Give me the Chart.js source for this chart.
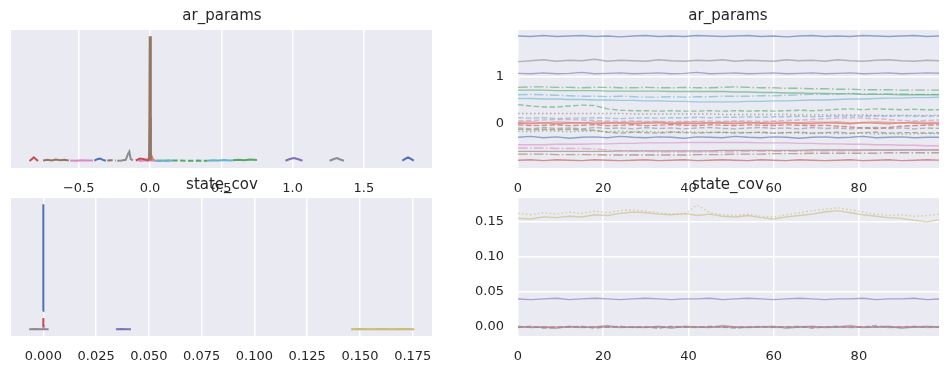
<!DOCTYPE html>
<html>
<head>
<meta charset="utf-8">
<script src="https://cdn.jsdelivr.net/npm/chart.js@4.4.1/dist/chart.umd.min.js"></script>
<style>
  body { margin: 0; background: #fff; }
  #wrap { position: relative; width: 950px; height: 374px; overflow: hidden; }
  canvas { position: absolute; left: 0; top: 0; }
  .ttl { position: absolute; font-family: "DejaVu Sans", sans-serif; font-size: 15px; color: #262626;
         transform: translate(-50%, -50%); white-space: nowrap; z-index: 5; }
</style>
</head>
<body>
<div id="wrap">
  <canvas id="c_tl" width="950" height="374"></canvas>
  <canvas id="c_tr" width="950" height="374"></canvas>
  <canvas id="c_bl" width="950" height="374"></canvas>
  <canvas id="c_br" width="950" height="374"></canvas>
  <div class="ttl" style="left:222px;top:15px">ar_params</div>
  <div class="ttl" style="left:728px;top:15px">ar_params</div>
  <div class="ttl" style="left:222px;top:184px">state_cov</div>
  <div class="ttl" style="left:728px;top:184px">state_cov</div>
</div>
<script>
// tick values
var AR_KDE_TICKS = [-0.5, 0, 0.5, 1, 1.5];
var SC_KDE_TICKS = [0, 0.025, 0.05, 0.075, 0.1, 0.125, 0.15, 0.175];
var DRAW_TICKS = [0, 20, 40, 60, 80];
var AR_TRACE_Y_TICKS = [0, 1];
var SC_TRACE_Y_TICKS = [0, 0.05, 0.1, 0.15];

// draw index for the trace panels (every 3rd draw)
var DRAWS = [0,3,6,9,12, 15,18,21,24,27, 30,33,36,39,42, 45,48,51,54,57, 60,63,66,69,72, 75,78,81,84,87, 90,93,96,99];

// ar_params traces
var arBlueTop   = [1.87,1.86,1.88,1.86,1.87, 1.88,1.86,1.87,1.85,1.87, 1.88,1.86,1.87,1.86,1.88, 1.87,1.86,1.87,1.88,1.86, 1.87,1.85,1.87,1.88,1.86, 1.87,1.86,1.88,1.87,1.86, 1.87,1.88,1.86,1.87];
var arGray      = [1.32,1.34,1.36,1.33,1.35, 1.34,1.37,1.33,1.35,1.34, 1.33,1.36,1.34,1.33,1.35, 1.34,1.36,1.33,1.35,1.34, 1.33,1.36,1.34,1.35,1.33, 1.36,1.34,1.33,1.35,1.36, 1.34,1.33,1.35,1.34];
var arPurple    = [1.07,1.06,1.08,1.06,1.07, 1.09,1.06,1.07,1.08,1.06, 1.07,1.08,1.06,1.07,1.09, 1.06,1.07,1.08,1.06,1.07, 1.08,1.06,1.07,1.08,1.06, 1.07,1.08,1.06,1.07,1.08, 1.06,1.07,1.08,1.07];
var arGreenDD   = [0.77,0.78,0.78,0.77,0.77, 0.76,0.77,0.77,0.76,0.76, 0.77,0.76,0.76,0.77,0.76, 0.76,0.77,0.78,0.77,0.76, 0.76,0.75,0.75,0.74,0.74, 0.73,0.73,0.72,0.72,0.72, 0.71,0.71,0.71,0.71];
var arGreen     = [0.71,0.71,0.71,0.70,0.70, 0.70,0.70,0.69,0.69,0.69, 0.69,0.69,0.68,0.68,0.68, 0.68,0.68,0.67,0.67,0.66, 0.66,0.65,0.65,0.64,0.64, 0.63,0.63,0.62,0.62,0.62, 0.61,0.61,0.61,0.61];
var arCyanDD    = [0.61,0.62,0.61,0.60,0.59, 0.58,0.58,0.57,0.58,0.57, 0.56,0.56,0.57,0.56,0.57, 0.57,0.58,0.58,0.58,0.59, 0.59,0.60,0.61,0.62,0.62, 0.63,0.64,0.63,0.63,0.63, 0.63,0.62,0.62,0.62];
var arCyan      = [0.53,0.53,0.52,0.52,0.51, 0.51,0.50,0.50,0.49,0.49, 0.48,0.48,0.47,0.47,0.46, 0.46,0.46,0.46,0.47,0.47, 0.48,0.48,0.49,0.50,0.50, 0.51,0.52,0.52,0.53,0.54, 0.54,0.55,0.55,0.56];
var arGreenDash = [0.40,0.37,0.35,0.35,0.37, 0.39,0.38,0.31,0.28,0.27, 0.27,0.26,0.27,0.26,0.26, 0.27,0.26,0.27,0.26,0.27, 0.26,0.27,0.28,0.27,0.28, 0.30,0.31,0.29,0.31,0.30, 0.29,0.30,0.29,0.29];
var arBrownDot  = [0.21,0.21,0.21,0.21,0.21, 0.21,0.21,0.21,0.21,0.20, 0.20,0.20,0.20,0.20,0.20, 0.20,0.19,0.19,0.19,0.19, 0.19,0.19,0.18,0.18,0.18, 0.18,0.18,0.18,0.17,0.17, 0.17,0.17,0.17,0.17];
var arCyanDash  = [0.12,0.11,0.12,0.10,0.11, 0.11,0.12,0.11,0.10,0.11, 0.12,0.11,0.12,0.12,0.13, 0.12,0.13,0.13,0.14,0.13, 0.14,0.14,0.15,0.14,0.15, 0.15,0.16,0.15,0.16,0.15, 0.16,0.15,0.15,0.16];
var arPinkDash  = [0.05,0.06,0.07,0.08,0.08, 0.07,0.06,0.05,0.04,0.05, 0.04,0.04,0.03,0.04,0.04, 0.05,0.04,0.05,0.05,0.04, 0.05,0.06,0.07,0.08,0.10, 0.11,0.12,0.11,0.10,0.08, 0.06,0.05,0.06,0.07];
var arOrange    = [0.02,0.03,0.01,0.03,0.02, 0.01,0.03,0.02,0.01,0.03, 0.02,0.03,0.01,0.02,0.03, 0.01,0.02,0.03,0.02,0.01, 0.03,0.02,0.01,0.03,0.02, 0.03,0.01,0.02,0.03,0.02, 0.01,0.03,0.02,0.02];
var arRed       = [0.00,-0.01,0.01,-0.01,0.00, 0.01,-0.01,0.00,0.01,-0.01, 0.00,0.01,-0.01,0.00,-0.01, 0.01,0.00,-0.01,0.01,0.00, -0.01,0.01,0.00,-0.01,0.01, 0.00,-0.01,0.01,0.00,-0.01, 0.01,0.00,-0.01,0.00];
var arRedDash   = [-0.03,-0.05,-0.04,-0.03,-0.05, -0.04,-0.03,-0.05,-0.04,-0.03, -0.05,-0.04,-0.03,-0.04,-0.05, -0.03,-0.04,-0.05,-0.03,-0.04, -0.05,-0.03,-0.04,-0.05,-0.04, -0.06,-0.08,-0.10,-0.11,-0.09, -0.06,-0.05,-0.04,-0.03];
var arGrayDash  = [-0.10,-0.12,-0.09,-0.11,-0.10, -0.12,-0.09,-0.11,-0.10,-0.12, -0.09,-0.11,-0.10,-0.12,-0.10, -0.09,-0.11,-0.12,-0.10,-0.09, -0.11,-0.10,-0.12,-0.09,-0.11, -0.10,-0.12,-0.10,-0.09,-0.11, -0.10,-0.12,-0.10,-0.11];
var arBrownDash = [-0.13,-0.14,-0.13,-0.14,-0.13, -0.14,-0.15,-0.19,-0.21,-0.19, -0.20,-0.21,-0.19,-0.20,-0.21, -0.20,-0.19,-0.21,-0.20,-0.19, -0.21,-0.20,-0.19,-0.21,-0.20, -0.19,-0.21,-0.20,-0.19,-0.21, -0.20,-0.20,-0.21,-0.20];
var arGreenDot  = [-0.17,-0.18,-0.16,-0.17,-0.18, -0.17,-0.16,-0.18,-0.17,-0.18, -0.17,-0.19,-0.18,-0.18,-0.19, -0.19,-0.20,-0.19,-0.20,-0.20, -0.21,-0.20,-0.21,-0.22,-0.21, -0.22,-0.22,-0.21,-0.23,-0.22, -0.23,-0.22,-0.22,-0.22];
var arBlue      = [-0.30,-0.28,-0.31,-0.29,-0.32, -0.30,-0.29,-0.31,-0.28,-0.30, -0.31,-0.29,-0.30,-0.32,-0.29, -0.30,-0.31,-0.28,-0.30,-0.31, -0.29,-0.30,-0.32,-0.30,-0.29, -0.31,-0.30,-0.28,-0.31,-0.30, -0.29,-0.31,-0.30,-0.30];
var arPink      = [-0.46,-0.46,-0.46,-0.45,-0.45, -0.45,-0.44,-0.44,-0.43,-0.43, -0.42,-0.42,-0.42,-0.41,-0.41, -0.41,-0.41,-0.41,-0.41,-0.42, -0.42,-0.42,-0.43,-0.43,-0.44, -0.44,-0.45,-0.45,-0.46,-0.46, -0.47,-0.47,-0.48,-0.48];
var arPinkDD    = [-0.53,-0.53,-0.53,-0.54,-0.54, -0.54,-0.55,-0.57,-0.59,-0.60, -0.60,-0.61,-0.61,-0.61,-0.61, -0.61,-0.61,-0.61,-0.60,-0.60, -0.60,-0.60,-0.60,-0.59,-0.59, -0.59,-0.59,-0.58,-0.58,-0.58, -0.58,-0.57,-0.57,-0.57];
var arBrown     = [-0.60,-0.60,-0.60,-0.60,-0.60, -0.60,-0.60,-0.60,-0.59,-0.59, -0.59,-0.59,-0.59,-0.59,-0.59, -0.59,-0.58,-0.58,-0.58,-0.58, -0.58,-0.58,-0.58,-0.57,-0.57, -0.57,-0.57,-0.57,-0.57,-0.57, -0.57,-0.57,-0.57,-0.57];
var arBrownDD   = [-0.66,-0.66,-0.66,-0.67,-0.67, -0.67,-0.67,-0.68,-0.68,-0.68, -0.68,-0.68,-0.68,-0.68,-0.67, -0.67,-0.67,-0.66,-0.66,-0.66, -0.65,-0.65,-0.65,-0.64,-0.64, -0.64,-0.64,-0.64,-0.64,-0.63, -0.63,-0.63,-0.63,-0.63];
var arRedBottom = [-0.79,-0.78,-0.80,-0.78,-0.79, -0.80,-0.78,-0.79,-0.80,-0.79, -0.78,-0.80,-0.79,-0.78,-0.80, -0.79,-0.78,-0.79,-0.80,-0.78, -0.79,-0.80,-0.78,-0.79,-0.80, -0.79,-0.78,-0.80,-0.79,-0.78, -0.80,-0.79,-0.78,-0.79];

// state_cov traces
var scOlive    = [0.155,0.154,0.157,0.156,0.158, 0.157,0.160,0.159,0.162,0.164, 0.163,0.161,0.160,0.162,0.159, 0.161,0.158,0.157,0.159,0.156, 0.154,0.157,0.159,0.161,0.164, 0.166,0.163,0.160,0.158,0.156, 0.155,0.152,0.150,0.153];
var scOliveDot = [0.162,0.160,0.163,0.161,0.164, 0.162,0.165,0.163,0.166,0.167, 0.165,0.163,0.161,0.160,0.174, 0.163,0.160,0.159,0.161,0.158, 0.157,0.160,0.163,0.166,0.168, 0.170,0.167,0.164,0.161,0.159, 0.160,0.158,0.159,0.161];
var scPurple   = [0.040,0.039,0.040,0.041,0.039, 0.040,0.041,0.040,0.039,0.040, 0.041,0.040,0.039,0.040,0.040, 0.041,0.039,0.040,0.041,0.040, 0.039,0.040,0.041,0.040,0.039, 0.040,0.040,0.041,0.039,0.040, 0.040,0.041,0.039,0.040];
var scGray     = [-0.001,0.001,-0.002,-0.001,0.000, 0.001,-0.002,0.000,0.001,-0.001, 0.000,-0.002,0.001,0.000,-0.001, 0.001,0.000,-0.002,0.000,0.001, -0.001,0.000,0.001,-0.002,0.000, 0.001,-0.001,0.000,0.002,-0.001, 0.000,0.001,-0.001,0.000];
var scGray2    = [0.001,-0.001,0.000,-0.002,0.001, -0.001,0.000,0.002,-0.001,0.000, -0.001,0.001,-0.002,0.001,0.000, -0.001,0.002,0.000,-0.001,0.000, 0.001,-0.002,0.000,0.001,-0.001, 0.000,0.002,-0.001,0.000,0.001, -0.002,0.000,0.001,0.000];
var scRed      = [0,0,0,0,0, 0,0,0,0,0, 0,0,0,0,0, 0,0,0,0,0, 0,0,0,0,0, 0,0,0,0,0, 0,0,0,0];

// ar_params densities, [value, density] (density scaled so the tallest is 1)
var kdeArRed      = [[-0.845,0.005],[-0.83,0.02],[-0.815,0.035],[-0.80,0.02],[-0.785,0.005]];
var kdeArBrown    = [[-0.75,0.01],[-0.72,0.015],[-0.69,0.01],[-0.66,0.018],[-0.63,0.012],[-0.60,0.016],[-0.57,0.01]];
var kdeArPink     = [[-0.56,0.01],[-0.52,0.008],[-0.48,0.012],[-0.44,0.009],[-0.40,0.01]];
var kdeArBlue     = [[-0.39,0.008],[-0.37,0.02],[-0.35,0.025],[-0.33,0.015],[-0.31,0.008]];
var kdeArBrown2   = [[-0.30,0.01],[-0.27,0.012],[-0.24,0.01]];
var kdeArGray     = [[-0.23,0.008],[-0.20,0.01],[-0.17,0.015],[-0.155,0.06],[-0.145,0.08],[-0.135,0.02],[-0.12,0.01]];
var kdeArRed2     = [[-0.10,0.01],[-0.07,0.025],[-0.04,0.02],[-0.01,0.01]];
var kdeArPink2    = [[-0.08,0.006],[-0.04,0.01],[0.0,0.012],[0.04,0.008],[0.08,0.005]];
var kdeArOrange   = [[-0.02,0.01],[-0.01,0.03],[0.0,0.05],[0.01,0.05],[0.02,0.02],[0.03,0.01]];
var kdeArBlue2    = [[-0.004,0.02],[0.0,0.35],[0.004,0.02]];
var kdeArSpike    = [[-0.004,0.01],[0.0,1.0],[0.004,0.01]];
var kdeArCyan     = [[0.04,0.008],[0.08,0.01],[0.12,0.007],[0.16,0.009]];
var kdeArGreen2   = [[0.10,0.008],[0.18,0.01],[0.26,0.007],[0.34,0.009],[0.40,0.008]];
var kdeArCyan2    = [[0.40,0.008],[0.44,0.012],[0.48,0.009],[0.52,0.014],[0.56,0.01],[0.58,0.012]];
var kdeArGreen    = [[0.58,0.012],[0.62,0.016],[0.66,0.012],[0.70,0.018],[0.75,0.014]];
var kdeArPurple   = [[0.95,0.008],[0.98,0.022],[1.01,0.03],[1.04,0.02],[1.07,0.008]];
var kdeArGray2    = [[1.26,0.008],[1.29,0.022],[1.31,0.03],[1.33,0.02],[1.36,0.008]];
var kdeArBlueTop  = [[1.77,0.008],[1.79,0.022],[1.81,0.035],[1.83,0.022],[1.85,0.008]];

// state_cov densities
var kdeScGray   = [[-0.0067,0.003],[-0.004,0.005],[-0.001,0.004],[0.0025,0.003]];
var kdeScPurple = [[0.0344,0.003],[0.037,0.005],[0.040,0.004],[0.0415,0.003]];
var kdeScOlive  = [[0.1458,0.003],[0.150,0.005],[0.155,0.004],[0.160,0.006],[0.165,0.004],[0.170,0.005],[0.1757,0.003]];
var kdeScBlue   = [[-0.00005,0.147],[0.0,1.0],[0.00005,0.147]];
var kdeScRed    = [[-0.00005,0.03],[0.0,0.093],[0.00005,0.03]];
var kdeScPink   = [[-0.0003,0.005],[0.0,0.035],[0.0003,0.005]];

var DEEP = {blue:'76,114,176', orange:'221,132,82', green:'85,168,104', red:'196,78,82', purple:'129,114,179',
            brown:'147,120,96', pink:'218,139,195', gray:'140,140,140', olive:'204,185,116', cyan:'100,181,205'};
var DASH = {solid: [], dashed: [5.5, 2.4], dotted: [1.5, 2.5], dashdot: [9.6, 2.4, 1.5, 2.4]};
var INK = '#262626';
var FONT = {family: 'DejaVu Sans', size: 13};

var bgPlugin = {
  id: 'bg',
  beforeDraw: function(chart) {
    var a = chart.chartArea, ctx = chart.ctx;
    ctx.save();
    ctx.fillStyle = '#EAEAF2';
    ctx.fillRect(a.left, a.top, a.right - a.left, a.bottom - a.top);
    ctx.restore();
  }
};

function traceSet(vals, color, style) {
  return {
    data: vals.map(function(v, i) { return {x: DRAWS[i], y: v}; }),
    borderColor: 'rgba(' + DEEP[color] + ',0.6)',
    borderWidth: 1.4, borderDash: DASH[style],
    pointRadius: 0, showLine: true, tension: 0
  };
}
function kdeSet(pts, color, style, w) {
  return {
    data: pts.map(function(p) { return {x: p[0], y: p[1]}; }),
    borderColor: 'rgb(' + DEEP[color] + ')',
    borderWidth: w || 2, borderDash: DASH[style || 'solid'],
    pointRadius: 0, showLine: true, tension: 0
  };
}
function fixTicks(list) {
  return function(s) { s.ticks = list.map(function(v) { return {value: v}; }); };
}

// area = plot rectangle in page pixels
function panel(id, area, xs, ys, datasets) {
  var yW = ys.display ? 60 : 0, xH = 30;
  var x = {
    type: 'linear', min: xs.min, max: xs.max,
    afterBuildTicks: fixTicks(xs.ticks),
    afterFit: function(s) { s.height = xH; },
    grid: {color: '#fff', lineWidth: 1.5, drawTicks: false},
    border: {display: false},
    ticks: {color: INK, font: FONT, padding: 13, maxRotation: 0, autoSkip: false, callback: xs.fmt}
  };
  var y = {
    type: 'linear', min: ys.min, max: ys.max, display: ys.display,
    grid: {color: '#fff', lineWidth: 1.5, drawTicks: false},
    border: {display: false},
    ticks: {color: INK, font: FONT, padding: 14, autoSkip: false, callback: ys.fmt}
  };
  if (ys.ticks) y.afterBuildTicks = fixTicks(ys.ticks);
  y.afterFit = function(s) { s.width = yW; };
  return new Chart(document.getElementById(id), {
    type: 'scatter',
    data: {datasets: datasets},
    options: {
      responsive: false, animation: false, devicePixelRatio: 1, events: [],
      layout: {padding: {left: area.left - yW, top: area.top, right: 950 - area.right, bottom: 374 - area.bottom - xH}},
      plugins: {legend: {display: false}, tooltip: {enabled: false}},
      scales: {x: x, y: y}
    },
    plugins: [bgPlugin]
  });
}

function minusFmt(d) {
  return function(v) { return v < 0 ? '\u2212' + Math.abs(v).toFixed(d) : v.toFixed(d); };
}

panel('c_tl', {left: 11, top: 30, right: 432, bottom: 168},
  {min: -0.975, max: 1.978, ticks: AR_KDE_TICKS, fmt: minusFmt(1)},
  {min: -0.05, max: 1.05, display: false},
  [
    kdeSet(kdeArRed, 'red'), kdeSet(kdeArBrown, 'brown'), kdeSet(kdeArPink, 'pink'),
    kdeSet(kdeArBlue, 'blue'), kdeSet(kdeArBrown2, 'brown', 'dashed'), kdeSet(kdeArGray, 'gray'),
    kdeSet(kdeArRed2, 'red'), kdeSet(kdeArCyan, 'cyan'), kdeSet(kdeArGreen2, 'green', 'dashed'),
    kdeSet(kdeArCyan2, 'cyan'), kdeSet(kdeArGreen, 'green'), kdeSet(kdeArPurple, 'purple'),
    kdeSet(kdeArGray2, 'gray'), kdeSet(kdeArBlueTop, 'blue'),
    kdeSet(kdeArSpike, 'brown', 'solid', 2.5), kdeSet(kdeArBlue2, 'blue'),
    kdeSet(kdeArOrange, 'orange'), kdeSet(kdeArPink2, 'pink')
  ]);

panel('c_tr', {left: 518, top: 30, right: 939, bottom: 168},
  {min: 0, max: 98.8, ticks: DRAW_TICKS, fmt: function(v) { return String(v); }},
  {min: -0.957, max: 1.998, display: true, ticks: AR_TRACE_Y_TICKS, fmt: function(v) { return String(v); }},
  [
    traceSet(arBlueTop, 'blue', 'solid'), traceSet(arGray, 'gray', 'solid'), traceSet(arPurple, 'purple', 'solid'),
    traceSet(arGreenDD, 'green', 'dashdot'), traceSet(arGreen, 'green', 'solid'),
    traceSet(arCyanDD, 'cyan', 'dashdot'), traceSet(arCyan, 'cyan', 'solid'),
    traceSet(arGreenDash, 'green', 'dashed'), traceSet(arBrownDot, 'brown', 'dotted'),
    traceSet(arCyanDash, 'cyan', 'dashed'), traceSet(arPinkDash, 'pink', 'dashed'),
    traceSet(arGrayDash, 'gray', 'dashed'), traceSet(arBrownDash, 'brown', 'dashed'),
    traceSet(arGreenDot, 'green', 'dotted'), traceSet(arRedDash, 'red', 'dashed'),
    traceSet(arOrange, 'orange', 'solid'), traceSet(arRed, 'red', 'solid'),
    traceSet(arBlue, 'blue', 'solid'), traceSet(arPink, 'pink', 'solid'), traceSet(arPinkDD, 'pink', 'dashdot'),
    traceSet(arBrown, 'brown', 'solid'), traceSet(arBrownDD, 'brown', 'dashdot'),
    traceSet(arRedBottom, 'red', 'solid')
  ]);

panel('c_bl', {left: 11, top: 198, right: 432, bottom: 336},
  {min: -0.0153, max: 0.1841, ticks: SC_KDE_TICKS, fmt: function(v) { return v.toFixed(3); }},
  {min: -0.05, max: 1.05, display: false},
  [
    kdeSet(kdeScGray, 'gray'), kdeSet(kdeScPurple, 'purple'), kdeSet(kdeScOlive, 'olive'),
    kdeSet(kdeScBlue, 'blue'), kdeSet(kdeScRed, 'red'), kdeSet(kdeScPink, 'pink')
  ]);

panel('c_br', {left: 518, top: 198, right: 939, bottom: 336},
  {min: 0, max: 98.8, ticks: DRAW_TICKS, fmt: function(v) { return String(v); }},
  {min: -0.0129, max: 0.184, display: true, ticks: SC_TRACE_Y_TICKS, fmt: function(v) { return v.toFixed(2); }},
  [
    traceSet(scOlive, 'olive', 'solid'), traceSet(scOliveDot, 'olive', 'dotted'),
    traceSet(scPurple, 'purple', 'solid'), traceSet(scGray, 'gray', 'dashed'),
    traceSet(scGray2, 'gray', 'solid'), traceSet(scRed, 'red', 'solid'), traceSet(scRed, 'pink', 'dashed')
  ]);
</script>
</body>
</html>
